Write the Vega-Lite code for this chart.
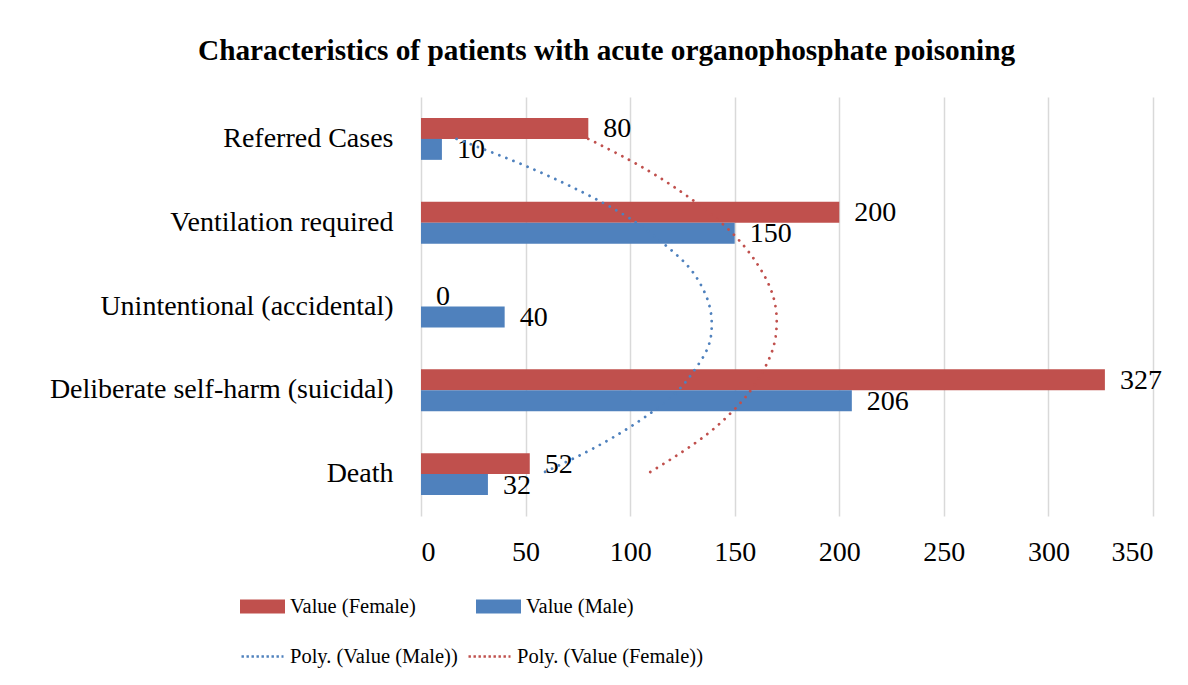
{
  "$schema": "https://vega.github.io/schema/vega-lite/v6.json",
  "autosize": {"type": "none"},
  "padding": {"left": 421, "top": 97, "right": 35, "bottom": 169},
  "width": 732,
  "height": 419,
  "background": "white",
  "title": {
    "text": "Characteristics of patients with acute organophosphate poisoning",
    "font": "Liberation Serif",
    "fontSize": 29.3,
    "fontWeight": "bold",
    "color": "black",
    "anchor": "start",
    "frame": "group",
    "dx": -223,
    "offset": 8,
    "baseline": "alphabetic"
  },
  "datasets": {
    "bars": [
      {"category": "Referred Cases", "series": "Value (Female)", "value": 80},
      {"category": "Referred Cases", "series": "Value (Male)", "value": 10},
      {"category": "Ventilation required", "series": "Value (Female)", "value": 200},
      {"category": "Ventilation required", "series": "Value (Male)", "value": 150},
      {"category": "Unintentional (accidental)", "series": "Value (Female)", "value": 0},
      {"category": "Unintentional (accidental)", "series": "Value (Male)", "value": 40},
      {"category": "Deliberate self-harm (suicidal)", "series": "Value (Female)", "value": 327},
      {"category": "Deliberate self-harm (suicidal)", "series": "Value (Male)", "value": 206},
      {"category": "Death", "series": "Value (Female)", "value": 52},
      {"category": "Death", "series": "Value (Male)", "value": 32}
    ],
    "trend": [
      {"series": "Poly. (Value (Male))", "pos": 1, "value": 17},
      {"series": "Poly. (Value (Male))", "pos": 1.25, "value": 43},
      {"series": "Poly. (Value (Male))", "pos": 1.5, "value": 66},
      {"series": "Poly. (Value (Male))", "pos": 1.75, "value": 86},
      {"series": "Poly. (Value (Male))", "pos": 2, "value": 103},
      {"series": "Poly. (Value (Male))", "pos": 2.25, "value": 116},
      {"series": "Poly. (Value (Male))", "pos": 2.5, "value": 127},
      {"series": "Poly. (Value (Male))", "pos": 2.75, "value": 134},
      {"series": "Poly. (Value (Male))", "pos": 3, "value": 138},
      {"series": "Poly. (Value (Male))", "pos": 3.25, "value": 139},
      {"series": "Poly. (Value (Male))", "pos": 3.5, "value": 137},
      {"series": "Poly. (Value (Male))", "pos": 3.75, "value": 131},
      {"series": "Poly. (Value (Male))", "pos": 4, "value": 123},
      {"series": "Poly. (Value (Male))", "pos": 4.25, "value": 111},
      {"series": "Poly. (Value (Male))", "pos": 4.5, "value": 96},
      {"series": "Poly. (Value (Male))", "pos": 4.75, "value": 78},
      {"series": "Poly. (Value (Male))", "pos": 5, "value": 57},
      {"series": "Poly. (Value (Female))", "pos": 1, "value": 80},
      {"series": "Poly. (Value (Female))", "pos": 1.25, "value": 99.5},
      {"series": "Poly. (Value (Female))", "pos": 1.5, "value": 116.5},
      {"series": "Poly. (Value (Female))", "pos": 1.75, "value": 131},
      {"series": "Poly. (Value (Female))", "pos": 2, "value": 143.5},
      {"series": "Poly. (Value (Female))", "pos": 2.25, "value": 153.5},
      {"series": "Poly. (Value (Female))", "pos": 2.5, "value": 161},
      {"series": "Poly. (Value (Female))", "pos": 2.75, "value": 166.5},
      {"series": "Poly. (Value (Female))", "pos": 3, "value": 169.5},
      {"series": "Poly. (Value (Female))", "pos": 3.25, "value": 170},
      {"series": "Poly. (Value (Female))", "pos": 3.5, "value": 168.3},
      {"series": "Poly. (Value (Female))", "pos": 3.75, "value": 164},
      {"series": "Poly. (Value (Female))", "pos": 4, "value": 157.7},
      {"series": "Poly. (Value (Female))", "pos": 4.25, "value": 149},
      {"series": "Poly. (Value (Female))", "pos": 4.5, "value": 138},
      {"series": "Poly. (Value (Female))", "pos": 4.75, "value": 124},
      {"series": "Poly. (Value (Female))", "pos": 5, "value": 108}
    ]
  },
  "config": {
    "view": {"stroke": null},
    "axis": {
      "labelFont": "Liberation Serif",
      "labelFontSize": 28,
      "labelColor": "black",
      "domain": false,
      "ticks": false,
      "title": null
    }
  },
  "layer": [
    {
      "data": {"name": "bars"},
      "layer": [
        {
          "mark": {"type": "bar"},
          "encoding": {
            "y": {
              "field": "category",
              "type": "nominal",
              "sort": ["Referred Cases", "Ventilation required", "Unintentional (accidental)", "Deliberate self-harm (suicidal)", "Death"],
              "scale": {"paddingInner": 0.5, "paddingOuter": 0.25},
              "axis": {"labelPadding": 28, "grid": false, "labelLimit": 0}
            },
            "yOffset": {
              "field": "series",
              "type": "nominal",
              "sort": ["Value (Female)", "Value (Male)"],
              "scale": {"paddingInner": 0, "paddingOuter": 0}
            },
            "x": {
              "field": "value",
              "type": "quantitative",
              "scale": {"domain": [0, 350], "nice": false},
              "axis": {
                "values": [0, 50, 100, 150, 200, 250, 300, 350],
                "grid": true,
                "gridColor": "#D9D9D9",
                "gridWidth": 1.5,
                "labelPadding": 22
              }
            },
            "color": {
              "field": "series",
              "type": "nominal",
              "scale": {"domain": ["Value (Female)", "Value (Male)"], "range": ["#C0504D", "#4F81BD"]},
              "legend": {
                "orient": "none",
                "legendX": -181,
                "legendY": 487,
                "direction": "horizontal",
                "columns": 2,
                "title": null,
                "padding": 0,
                "symbolType": "M-1,-0.311H1V0.311H-1Z",
                "symbolSize": 2025,
                "symbolStrokeWidth": 0,
                "labelFont": "Liberation Serif",
                "labelFontSize": 20.5,
                "labelColor": "black",
                "labelOffset": 5,
                "labelLimit": 0,
                "columnPadding": 60
              }
            }
          }
        },
        {
          "mark": {"type": "text", "align": "left", "baseline": "middle", "dx": 15, "dy": 1, "font": "Liberation Serif", "fontSize": 28, "color": "black"},
          "encoding": {
            "y": {"field": "category", "type": "nominal", "sort": ["Referred Cases", "Ventilation required", "Unintentional (accidental)", "Deliberate self-harm (suicidal)", "Death"]},
            "yOffset": {"field": "series", "type": "nominal", "sort": ["Value (Female)", "Value (Male)"]},
            "x": {"field": "value", "type": "quantitative"},
            "text": {"field": "value", "type": "quantitative"}
          }
        }
      ]
    },
    {
      "data": {"name": "trend"},
      "mark": {"type": "line", "strokeWidth": 2.8, "strokeDash": [0.01, 7.6], "strokeCap": "round", "interpolate": "natural"},
      "encoding": {
        "y": {"field": "pos", "type": "quantitative", "scale": {"domain": [0.5, 5.5], "reverse": true, "nice": false, "zero": false}, "axis": null},
        "x": {"field": "value", "type": "quantitative"},
        "order": {"field": "pos", "type": "quantitative"},
        "stroke": {
          "field": "series",
          "type": "nominal",
          "scale": {"domain": ["Poly. (Value (Male))", "Poly. (Value (Female))"], "range": ["#4F81BD", "#C0504D"]},
          "legend": {
            "orient": "none",
            "legendX": -181,
            "legendY": 537,
            "direction": "horizontal",
            "columns": 2,
            "title": null,
            "padding": 0,
            "symbolType": "stroke",
            "symbolSize": 1764,
            "symbolStrokeWidth": 2.6,
            "symbolDash": [2.4, 2.6],
            "labelFont": "Liberation Serif",
            "labelFontSize": 20.5,
            "labelColor": "black",
            "labelOffset": 5,
            "labelLimit": 0,
            "columnPadding": 5
          }
        }
      }
    }
  ],
  "resolve": {"scale": {"y": "independent"}}
}
